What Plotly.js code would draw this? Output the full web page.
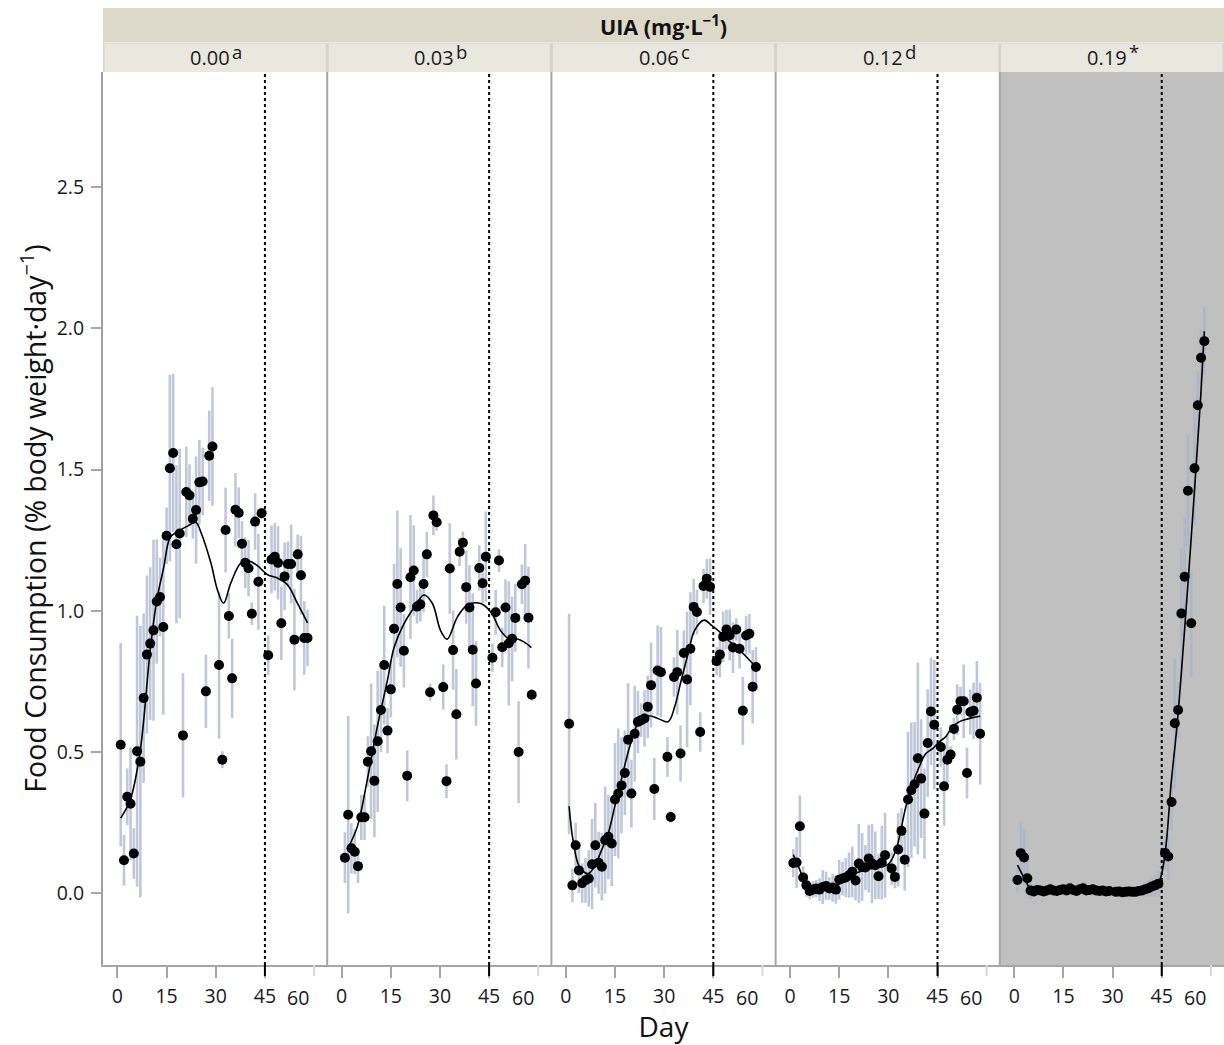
<!DOCTYPE html>
<html><head><meta charset="utf-8">
<script src="https://cdn.plot.ly/plotly-3.0.1.min.js"></script>
<style>html,body{margin:0;padding:0;background:#fff}#chart{width:1224px;height:1045px}</style>
</head><body><div id="chart"></div>
<script>
// Sampling days (same in every panel)
const days = [1,2,3,4,5,6,7,8,9,10,11,12,13,14,15,16,17,18,19,20,21,22,23,24,25,26,27,28,29,
  31,32,33,34,35,36,37,38,39,40,41,42,43,44,
  46,47,48,49,50,51,52,53,54,55,56,57,58];

// UIA 0.00
const fc000 = [0.526,0.117,0.342,0.317,0.141,0.503,0.466,0.691,0.845,0.884,0.931,1.033,1.049,0.943,1.266,1.505,1.559,1.236,1.274,0.559,1.421,1.409,1.326,1.357,1.455,1.458,0.715,1.549,1.582,
  0.808,0.473,1.286,0.982,0.761,1.358,1.347,1.238,1.170,1.151,0.990,1.316,1.103,1.346,
  0.843,1.182,1.192,1.170,0.956,1.122,1.166,1.166,0.898,1.200,1.126,0.904,0.904];
const se000 = [0.36,0.09,0.10,0.20,0.09,0.48,0.48,0.30,0.28,0.27,0.32,0.22,0.14,0.31,0.10,0.33,0.28,0.28,0.30,0.22,0.16,0.11,0.07,0.19,0.15,0.12,0.13,0.16,0.21,
  0.26,0.03,0.15,0.08,0.14,0.13,0.09,0.08,0.09,0.10,0.04,0.10,0.17,0.02,
  0.07,0.12,0.12,0.13,0.13,0.12,0.08,0.14,0.18,0.07,0.14,0.13,0.10];
const smoothDay000 = [1.0,3.9,6.9,10,12,14.1,16.1,18.3,21.4,23.9,25.4,28.5,30.5,32.4,34.6,37.7,40.2,42.7,45.8,48.8,51.9,54.9,58];
const smoothFc000 = [0.266,0.33,0.50,0.86,1.038,1.152,1.26,1.28,1.30,1.314,1.28,1.17,1.075,1.027,1.099,1.17,1.176,1.16,1.128,1.116,1.092,1.027,0.957];

// UIA 0.03
const fc003 = [0.126,0.278,0.159,0.147,0.096,0.269,0.269,0.466,0.503,0.398,0.538,0.649,0.808,0.576,0.722,0.937,1.095,1.012,0.859,0.416,1.119,1.143,1.015,1.023,1.095,1.200,0.712,1.338,1.314,
  0.730,0.397,1.150,0.861,0.634,1.209,1.241,1.084,1.012,0.862,0.743,1.152,1.098,1.192,
  0.834,0.995,1.178,0.871,1.012,0.885,0.901,0.975,0.500,1.094,1.107,0.976,0.703];
const se003 = [0.09,0.35,0.09,0.08,0.06,0.08,0.08,0.09,0.24,0.20,0.25,0.15,0.21,0.08,0.10,0.23,0.26,0.21,0.13,0.09,0.22,0.16,0.06,0.06,0.10,0.08,0.03,0.07,0.03,
  0.08,0.06,0.16,0.14,0.16,0.05,0.04,0.13,0.15,0.20,0.15,0.08,0.07,0.16,
  0.05,0.08,0.04,0.07,0.10,0.22,0.15,0.12,0.18,0.07,0.13,0.18,0.02];
const smoothDay003 = [1.9,4.8,7.8,10.9,13.9,16,19,22.6,25.1,27.7,30.2,32.2,35.3,38.3,42.4,45.5,48.5,51.1,53.6,55.6,57.9];
const smoothFc003 = [0.159,0.236,0.40,0.59,0.75,0.87,0.954,1.02,1.056,1.026,0.93,0.90,0.978,1.02,1.026,0.996,0.93,0.90,0.90,0.89,0.87];

// UIA 0.06
const fc006 = [0.600,0.028,0.170,0.081,0.036,0.046,0.052,0.103,0.170,0.108,0.094,0.188,0.200,0.176,0.332,0.353,0.382,0.426,0.544,0.353,0.565,0.607,0.613,0.619,0.660,0.737,0.369,0.789,0.783,
  0.483,0.270,0.766,0.783,0.495,0.851,0.757,0.866,1.014,0.996,0.571,1.088,1.114,1.085,
  0.822,0.845,0.908,0.934,0.914,0.870,0.934,0.866,0.646,0.913,0.919,0.731,0.801];
const se006 = [0.39,0.06,0.08,0.08,0.07,0.08,0.10,0.16,0.15,0.11,0.12,0.19,0.15,0.15,0.20,0.23,0.17,0.15,0.20,0.12,0.17,0.11,0.06,0.10,0.11,0.15,0.11,0.16,0.16,
  0.07,0.02,0.07,0.15,0.10,0.08,0.24,0.20,0.10,0.08,0.07,0.06,0.07,0.10,
  0.05,0.08,0.09,0.07,0.09,0.09,0.04,0.07,0.12,0.07,0.07,0.13,0.07];
const smoothDay006 = [1,2.2,4.2,6.8,8.8,10.8,12.9,14.9,16.9,19.5,22.0,25.1,28.1,31.2,33.2,35.2,37.3,39.3,42.2,44.4,46.9,49.5,52.0,54.6,58];
const smoothFc006 = [0.308,0.188,0.093,0.070,0.095,0.150,0.21,0.306,0.40,0.52,0.60,0.628,0.619,0.607,0.66,0.754,0.848,0.931,0.967,0.949,0.926,0.896,0.872,0.843,0.801];

// UIA 0.12
const fc012 = [0.107,0.109,0.237,0.056,0.028,0.008,0.013,0.017,0.013,0.022,0.026,0.017,0.020,0.013,0.048,0.052,0.056,0.064,0.076,0.045,0.105,0.093,0.091,0.123,0.105,0.099,0.060,0.109,0.135,
  0.088,0.058,0.155,0.221,0.119,0.332,0.365,0.386,0.478,0.406,0.282,0.532,0.644,0.597,
  0.518,0.379,0.473,0.491,0.582,0.650,0.680,0.680,0.426,0.642,0.646,0.692,0.565];
const se012 = [0.05,0.09,0.11,0.04,0.04,0.03,0.03,0.03,0.04,0.06,0.05,0.04,0.05,0.05,0.07,0.06,0.07,0.08,0.09,0.07,0.14,0.12,0.08,0.12,0.14,0.12,0.08,0.13,0.15,
  0.06,0.04,0.13,0.08,0.11,0.24,0.24,0.22,0.34,0.21,0.16,0.19,0.19,0.23,
  0.07,0.14,0.09,0.03,0.04,0.09,0.05,0.13,0.09,0.08,0.10,0.13,0.18];
const smoothDay012 = [1,2.8,4.8,6.8,9.9,12.9,16,19,22.1,25.1,28.2,30.2,32.3,33.8,35.3,37.4,39.4,41.4,43.5,45.5,47.5,49.5,51.6,53.6,55.7,58];
const smoothFc012 = [0.137,0.088,0.035,0.017,0.017,0.023,0.041,0.065,0.080,0.088,0.094,0.105,0.152,0.223,0.305,0.388,0.447,0.494,0.512,0.536,0.554,0.589,0.607,0.615,0.622,0.627];

// UIA 0.19
const fc019 = [0.047,0.142,0.127,0.053,0.010,0.006,0.012,0.010,0.006,0.010,0.014,0.010,0.008,0.012,0.014,0.010,0.018,0.012,0.008,0.014,0.018,0.010,0.012,0.014,0.010,0.008,0.010,0.006,0.008,
  0.005,0.006,0.004,0.005,0.006,0.005,0.005,0.008,0.010,0.014,0.018,0.024,0.028,0.034,
  0.143,0.130,0.323,0.602,0.649,0.991,1.121,1.425,0.956,1.505,1.728,1.896,1.955];
const se019 = [0.04,0.11,0.10,0.06,0.03,0.02,0.02,0.02,0.015,0.015,0.02,0.015,0.015,0.02,0.02,0.015,0.02,0.02,0.015,0.02,0.02,0.015,0.015,0.02,0.015,0.015,0.015,0.01,0.01,
  0.01,0.01,0.01,0.01,0.01,0.01,0.01,0.015,0.02,0.025,0.03,0.035,0.04,0.045,
  0.06,0.08,0.10,0.23,0.10,0.23,0.21,0.20,0.19,0.20,0.12,0.10,0.12];
const smoothDay019 = [1,3,5,7,15,25,35,40,43,44.5,45.5,46.5,47.8,49.8,52.4,54.9,56.9,58];
const smoothFc019 = [0.10,0.055,0.015,0.003,0.003,0.003,0.003,0.008,0.025,0.05,0.1,0.19,0.38,0.61,1.0,1.41,1.76,1.99];

// Labels
const concLabels = ['0.00','0.03','0.06','0.12','0.19'];
const concMarks = ['a','b','c','d','*'];
const xTickVals = [0,15,30,45];
const xTickText = ['0','15','30','45'];
const xLastTickText = '60';
const yTickVals = [0,0.5,1,1.5,2,2.5];
const yTickText = ['0.0','0.5','1.0','1.5','2.0','2.5'];
const headerText = '<b>UIA (mg·L<sup>−1</sup>)</b>';
const xTitle = 'Day';
const yTitle = 'Food Consumption (% body weight·day<sup>−1</sup>)';

const panels = [
  {fc: fc000, se: se000, sd: smoothDay000, sf: smoothFc000},
  {fc: fc003, se: se003, sd: smoothDay003, sf: smoothFc003},
  {fc: fc006, se: se006, sd: smoothDay006, sf: smoothFc006},
  {fc: fc012, se: se012, sd: smoothDay012, sf: smoothFc012},
  {fc: fc019, se: se019, sd: smoothDay019, sf: smoothFc019}
];

const FONT = '"Open Sans", "Noto Sans", sans-serif';
const W = 1224, H = 1045, ML = 103, MT = 72, MB = 80;
const PH = H - MT - MB;
const PW = W - ML;
const py2paper = py => (MT + PH - py) / PH;
const GREY = '#a6a6a6';
const N = panels.length;
const TICK_SIZE = 19.5;

const traces = [];
const shapes = [];
const annotations = [];
const layout = {
  width: W, height: H,
  margin: {l: ML, r: 0, t: MT, b: MB, pad: 0},
  paper_bgcolor: '#ffffff', plot_bgcolor: '#ffffff',
  showlegend: false,
  font: {family: FONT, color: '#1a1a1a'},
  yaxis: {
    domain: [0, 1], range: [-0.254, 2.908], anchor: 'x',
    tickvals: yTickVals, ticktext: yTickText,
    ticks: 'outside', ticklen: 10, tickwidth: 2, tickcolor: GREY,
    showline: true, linecolor: '#a0a0a0', linewidth: 2,
    showgrid: false, zeroline: false,
    tickfont: {family: FONT, size: TICK_SIZE, color: '#1a1a1a'},
    ticklabelstandoff: 3,
    title: {text: yTitle, font: {family: FONT, size: 28.5, color: '#111'}, standoff: 2}
  }
};

panels.forEach((p, k) => {
  const sfx = k === 0 ? '' : String(k + 1);
  const xa = 'x' + sfx;
  traces.push({
    type: 'scatter', mode: 'markers', x: days, y: p.fc, xaxis: xa, yaxis: 'y',
    marker: {color: '#000', size: 10},
    error_y: {type: 'data', array: p.se, visible: true, color: 'rgba(168,177,203,0.72)', thickness: 2.6, width: 0},
    hoverinfo: 'skip', cliponaxis: false
  });
  traces.push({
    type: 'scatter', mode: 'lines', x: p.sd, y: p.sf, xaxis: xa, yaxis: 'y',
    line: {color: '#000', width: 1.6, shape: 'spline', smoothing: 1},
    hoverinfo: 'skip'
  });
  const ax = {
    domain: [k / N, (k + 1) / N], range: [-4.4, 64.0], anchor: 'y',
    tickvals: xTickVals, ticktext: xTickText,
    ticks: 'outside', ticklen: 11, tickwidth: 2, tickcolor: GREY,
    showline: true, linecolor: GREY, linewidth: 2,
    showgrid: false, zeroline: false,
    tickfont: {family: FONT, size: TICK_SIZE, color: '#1a1a1a'},
    ticklabelstandoff: 2
  };
  if (k === 2) ax.title = {text: xTitle, font: {family: FONT, size: 28, color: '#111'}, standoff: 1};
  layout['xaxis' + sfx] = ax;

  // grey background for the last panel
  if (k === 4) shapes.push({type: 'rect', xref: xa + ' domain', yref: 'y domain', x0: 0, x1: 1, y0: 0, y1: 1,
    fillcolor: '#c0c0c0', line: {width: 0}, layer: 'below'});
  // panel divider
  if (k > 0) shapes.push({type: 'line', xref: 'paper', yref: 'paper', x0: k / N, x1: k / N, y0: 0, y1: 1,
    line: {color: GREY, width: 2}});
  // dotted day-45 line
  shapes.push({type: 'line', xref: xa, yref: 'paper', x0: 45, x1: 45, y0: 0, y1: 1,
    line: {color: '#000', width: 2, dash: 'dot'}});
  shapes.push({type: 'line', xref: xa, yref: 'paper', x0: 45, x1: 45, y0: -11 / PH, y1: 0,
    line: {color: '#000', width: 2}});
  shapes.push({type: 'line', xref: xa, yref: 'paper', x0: 60, x1: 60, y0: -11 / PH, y1: 0,
    line: {color: '#d9d9d9', width: 2}});
  // strip
  shapes.push({type: 'rect', xref: 'paper', yref: 'paper',
    x0: k / N + 1.5 / PW, x1: (k + 1) / N - 1.5 / PW, y0: py2paper(72), y1: py2paper(43.5),
    fillcolor: '#e9e8df', line: {width: 0}});
  const cx = (k + 0.5) / N + 17 / PW;
  annotations.push({xref: 'paper', yref: 'paper', x: cx, y: py2paper(58),
    text: concLabels[k], showarrow: false,
    xanchor: 'right', yanchor: 'middle', font: {family: FONT, size: 20, color: '#1a1a1a'}});
  annotations.push({xref: 'paper', yref: 'paper', x: cx - 2 / PW, y: py2paper(52),
    text: concMarks[k], showarrow: false,
    xanchor: 'left', yanchor: 'middle', font: {family: FONT, size: 18.5, color: '#1a1a1a'}});
  annotations.push({xref: xa, yref: 'paper', x: 55.2, y: py2paper(997),
    text: xLastTickText, showarrow: false, xanchor: 'center', yanchor: 'middle',
    font: {family: FONT, size: TICK_SIZE, color: '#1a1a1a'}});
});

// header band
shapes.push({type: 'rect', xref: 'paper', yref: 'paper', x0: 0, x1: 1, y0: py2paper(72), y1: py2paper(42.5),
  fillcolor: '#d6d5cc', line: {width: 0}, layer: 'below'});
shapes.push({type: 'rect', xref: 'paper', yref: 'paper', x0: 0, x1: 1, y0: py2paper(42), y1: py2paper(8),
  fillcolor: '#dcd9c9', line: {width: 0}});
annotations.push({xref: 'paper', yref: 'paper', x: 0.5, y: py2paper(26), text: headerText, showarrow: false,
  xanchor: 'center', yanchor: 'middle', font: {family: FONT, size: 21.5, color: '#111'}});

layout.shapes = shapes;
layout.annotations = annotations;

Plotly.newPlot('chart', traces, layout, {displayModeBar: false, staticPlot: true});
</script>
</body></html>
